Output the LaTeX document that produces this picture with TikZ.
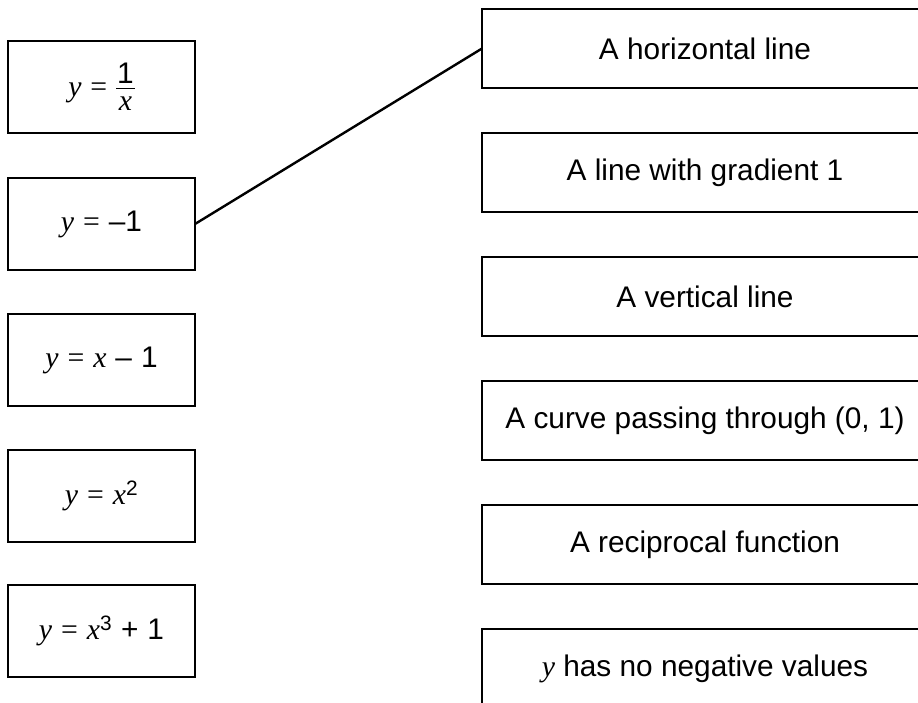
\documentclass[tikz,border=0pt]{standalone}
\usepackage{fontspec}
\setmainfont{Liberation Sans}
\newfontfamily\tms{Liberation Serif}
\newcommand\vy{{\tms\itshape y}}
\newcommand\vx{{\tms\itshape x}}
\newcommand\eqs{\hspace{0.3em}{\tms =}\hspace{0.3em}}
\newcommand\myfrac[2]{\setbox2\hbox{#2}\setbox0\vbox{\halign{\hskip1pt\hfil##\hfil\hskip1pt\cr #1\cr\noalign{\kern4pt\hrule height 1.3pt\kern8pt}\copy2\cr}}\raise\dimexpr 7.8pt-0.65pt-8pt-\ht2\relax\box0}
\tikzset{
  box/.style={draw=black, line width=1.3pt, rectangle, inner sep=0pt, outer sep=0pt,
    font=\fontsize{29.8}{35}\selectfont},
  lbox/.style={box, minimum width=187pt, minimum height=92pt},
  rbox/.style={box, minimum width=446pt, minimum height=79pt},
  link/.style={line width=2.4pt, black}
}
\begin{document}
\begin{tikzpicture}[x=1pt, y=-1pt]
\useasboundingbox (0,0) rectangle (918,702);
\clip (0,0) rectangle (918,702);
% left boxes
\node[lbox] (l1) at (101.5, 87)  {\vy\eqs\myfrac{1}{\vx}};
\node[lbox] (l2) at (101.5, 224) {\vy\eqs–1};
\node[lbox] (l3) at (101.5, 360) {\vy\eqs\vx\hspace{0.3em}–\hspace{0.3em}1};
\node[lbox] (l4) at (101.5, 496) {\vy\eqs\vx\textsuperscript{2}};
\node[lbox] (l5) at (101.5, 631) {\vy\eqs\vx\textsuperscript{3}\hspace{0.3em}+\hspace{0.3em}1};
% right boxes
\node[rbox] (r1) at (705, 48.5)  {A horizontal line};
\node[rbox] (r2) at (705, 172.5) {A line with gradient 1};
\node[rbox] (r3) at (705, 296.5) {A vertical line};
\node[rbox] (r4) at (705, 420.5) {A curve passing through (0, 1)};
\node[rbox] (r5) at (705, 544.5) {A reciprocal function};
\node[rbox] (r6) at (705, 668.5) {\vy{} has no negative values};
% connector
\draw[link] (l2.east) -- (r1.west);
\end{tikzpicture}
\end{document}
